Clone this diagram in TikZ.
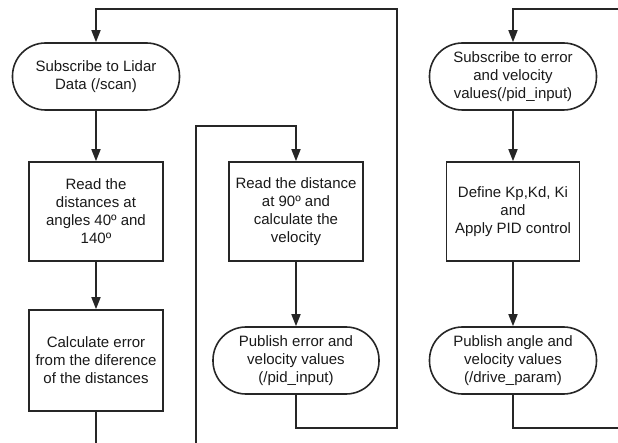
\documentclass[tikz,border=0pt]{standalone}
\usepackage{fontspec}
\setmainfont{Liberation Sans}
\usetikzlibrary{arrows.meta}
\begin{document}
\begin{tikzpicture}[x=1pt,y=-1pt,
  base/.style={draw=black!85, line width=1.6pt, align=center, inner sep=0pt,
    font=\fontsize{15}{18}\selectfont, text=black!90},
  procbox/.style={base, minimum width=134pt, minimum height=99pt},
  termbox/.style={base, rounded corners=33pt, minimum width=167pt, minimum height=67pt},
  flow/.style={draw=black!85, line width=1.6pt, -{Triangle[length=12pt,width=9pt]}},
  plain/.style={draw=black!85, line width=1.6pt}]
\useasboundingbox (0,0) rectangle (618,443);
% column 1
\node[termbox] (t1) at (96,76.5) {Subscribe to Lidar\\Data (/scan)};
\node[procbox] (b1) at (96,211.5) {Read the\\distances at\\angles 40º and\\140º};
\node[procbox, minimum height=101pt] (b2) at (96,360.5) {Calculate error\\from the diference\\of the distances};
% column 2
\node[procbox] (b3) at (296,211.5) {Read the distance\\at 90º and\\calculate the\\velocity};
\node[termbox, minimum width=166pt] (t2) at (296,360.5) {Publish error and\\velocity values\\(/pid\_input)};
% column 3
\node[termbox] (t3) at (513,76.5) {Subscribe to error\\and velocity\\values(/pid\_input)};
\node[procbox, minimum width=133pt] (b4) at (513,211.5) {Define Kp,Kd, Ki\\and\\Apply PID control};
\node[termbox] (t4) at (513,360.5) {Publish angle and\\velocity values\\(/drive\_param)};
% free ends
\coordinate (b2end) at (96,443);
\coordinate (c2start) at (196,443);
\coordinate (c2turn) at (196,126);
\coordinate (loopbr) at (397,428);
\coordinate (looptr) at (397,9);
\coordinate (c3in) at (618,9);
\coordinate (c3out) at (618,428);
% connectors
\draw[flow] (t1) -- (b1);
\draw[flow] (b1) -- (b2);
\draw[plain] (b2) -- (b2end);
\draw[flow] (c2start) -- (c2turn) -| (b3.north);
\draw[flow] (b3) -- (t2);
\draw[flow] (t2.south) |- (loopbr) -- (looptr) -| (t1.north);
\draw[flow] (c3in) -| (t3.north);
\draw[flow] (t3) -- (b4);
\draw[flow] (b4) -- (t4);
\draw[plain] (t4.south) |- (c3out);
\end{tikzpicture}
\end{document}
